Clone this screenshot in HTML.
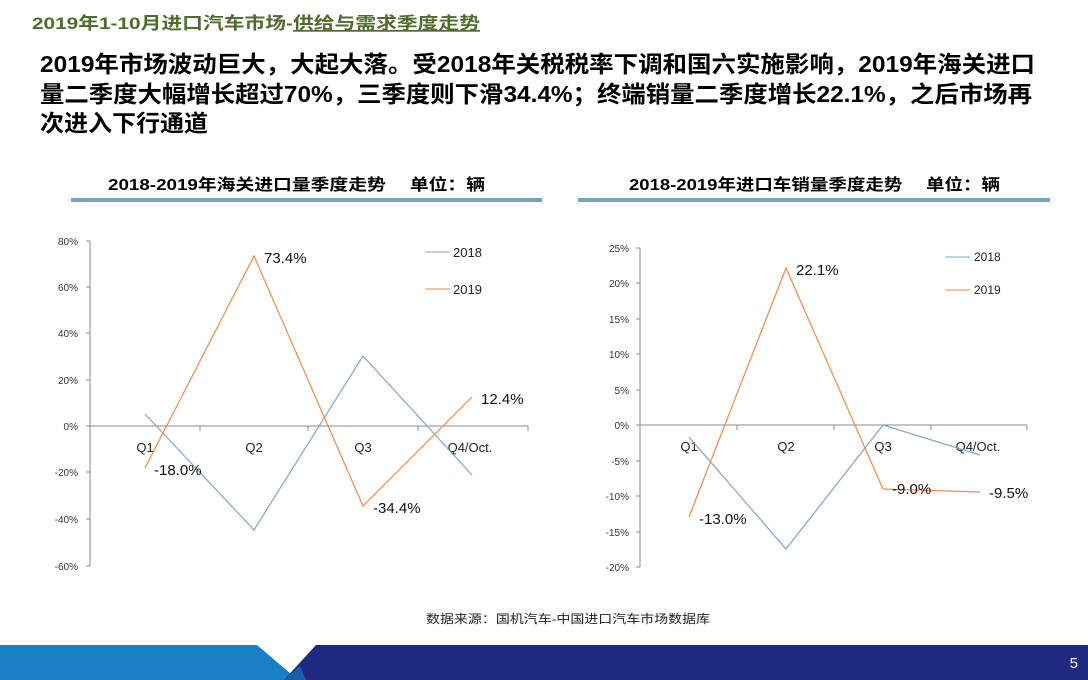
<!DOCTYPE html>
<html><head><meta charset="utf-8"><style>
html,body{margin:0;padding:0;background:#fff;}
svg{display:block;font-family:"Liberation Sans","Noto Sans CJK SC",sans-serif;}
</style></head><body>
<svg width="1088" height="680" viewBox="0 0 1088 680" xmlns="http://www.w3.org/2000/svg">
<rect width="1088" height="680" fill="#fff"/>
<text x="32" y="29" font-size="17" font-weight="bold" fill="#4f6b2e" textLength="448" lengthAdjust="spacingAndGlyphs">2019年1-10月进口汽车市场-<tspan text-decoration="underline">供给与需求季度走势</tspan></text>
<g font-size="23" font-weight="bold" fill="#000">
<text x="40" y="72" textLength="995" lengthAdjust="spacingAndGlyphs">2019年市场波动巨大，大起大落。受2018年关税税率下调和国六实施影响，2019年海关进口</text>
<text x="40" y="102" textLength="992" lengthAdjust="spacingAndGlyphs">量二季度大幅增长超过70%，三季度则下滑34.4%；终端销量二季度增长22.1%，之后市场再</text>
<text x="40" y="131" textLength="168" lengthAdjust="spacingAndGlyphs">次进入下行通道</text>
</g>
<g font-size="16" font-weight="bold" fill="#000">
<text x="108" y="190" textLength="377" lengthAdjust="spacingAndGlyphs">2018-2019年海关进口量季度走势　  单位：辆</text>
<text x="629" y="190" textLength="371" lengthAdjust="spacingAndGlyphs">2018-2019年进口车销量季度走势　 单位：辆</text>
</g>
<rect x="71" y="198" width="471" height="4" fill="#6fa7bc"/>
<rect x="578" y="198" width="472" height="4" fill="#6fa7bc"/>

<g stroke="#888" stroke-width="1" fill="none">
<line x1="90" y1="241" x2="90" y2="566"/>
<line x1="86" y1="241" x2="90" y2="241"/><line x1="86" y1="287" x2="90" y2="287"/><line x1="86" y1="333" x2="90" y2="333"/><line x1="86" y1="380" x2="90" y2="380"/><line x1="86" y1="426" x2="90" y2="426"/><line x1="86" y1="472" x2="90" y2="472"/><line x1="86" y1="519" x2="90" y2="519"/><line x1="86" y1="566" x2="90" y2="566"/>
<line x1="90" y1="426" x2="528" y2="426"/>
<line x1="200" y1="426" x2="200" y2="431"/><line x1="308" y1="426" x2="308" y2="431"/><line x1="418" y1="426" x2="418" y2="431"/><line x1="528" y1="426" x2="528" y2="431"/>
</g>
<g font-size="10" fill="#333" text-anchor="end">
<text x="78" y="245">80%</text><text x="78" y="291">60%</text><text x="78" y="337">40%</text><text x="78" y="384">20%</text><text x="78" y="430">0%</text><text x="78" y="476">-20%</text><text x="78" y="523">-40%</text><text x="78" y="570">-60%</text>
</g>
<g font-size="13" fill="#222" text-anchor="middle">
<text x="145" y="452">Q1</text><text x="254" y="452">Q2</text><text x="363" y="452">Q3</text><text x="470" y="452">Q4/Oct.</text>
</g>
<polyline points="145,414 254,530 363,356 472,475" fill="none" stroke="#7fa4cc" stroke-width="1.2"/>
<polyline points="145,468 254,256 363,506 472,397" fill="none" stroke="#ec8a4e" stroke-width="1.2"/>
<g font-size="15" fill="#111">
<text x="264" y="263">73.4%</text><text x="154" y="475">-18.0%</text><text x="373" y="513">-34.4%</text><text x="481" y="404">12.4%</text>
</g>
<line x1="425" y1="252" x2="450" y2="252" stroke="#7fa4cc"/><line x1="425" y1="289" x2="450" y2="289" stroke="#ec8a4e"/>
<g font-size="13" fill="#222"><text x="453" y="257">2018</text><text x="453" y="294">2019</text></g>

<g stroke="#888" stroke-width="1" fill="none">
<line x1="640" y1="248" x2="640" y2="567"/>
<line x1="636" y1="248" x2="640" y2="248"/><line x1="636" y1="283" x2="640" y2="283"/><line x1="636" y1="319" x2="640" y2="319"/><line x1="636" y1="354" x2="640" y2="354"/><line x1="636" y1="390" x2="640" y2="390"/><line x1="636" y1="425" x2="640" y2="425"/><line x1="636" y1="461" x2="640" y2="461"/><line x1="636" y1="496" x2="640" y2="496"/><line x1="636" y1="532" x2="640" y2="532"/><line x1="636" y1="567" x2="640" y2="567"/>
<line x1="640" y1="425" x2="1027" y2="425"/>
<line x1="737" y1="425" x2="737" y2="430"/><line x1="834" y1="425" x2="834" y2="430"/><line x1="931" y1="425" x2="931" y2="430"/><line x1="1027" y1="425" x2="1027" y2="430"/>
</g>
<g font-size="10" fill="#333" text-anchor="end">
<text x="629" y="252">25%</text><text x="629" y="287">20%</text><text x="629" y="323">15%</text><text x="629" y="358">10%</text><text x="629" y="394">5%</text><text x="629" y="429">0%</text><text x="629" y="465">-5%</text><text x="629" y="500">-10%</text><text x="629" y="536">-15%</text><text x="629" y="571">-20%</text>
</g>
<g font-size="13" fill="#222" text-anchor="middle">
<text x="689" y="451">Q1</text><text x="786" y="451">Q2</text><text x="883" y="451">Q3</text><text x="978" y="451">Q4/Oct.</text>
</g>
<polyline points="689,437 786,549 883,425 980,455" fill="none" stroke="#7fa4cc" stroke-width="1.2"/>
<polyline points="689,517 786,268 883,489 980,492" fill="none" stroke="#ec8a4e" stroke-width="1.2"/>
<g font-size="15" fill="#111">
<text x="796" y="275">22.1%</text><text x="699" y="524">-13.0%</text><text x="892" y="494">-9.0%</text><text x="989" y="498">-9.5%</text>
</g>
<line x1="945" y1="257" x2="970" y2="257" stroke="#7fa4cc"/><line x1="945" y1="290" x2="970" y2="290" stroke="#ec8a4e"/>
<g font-size="12" fill="#222"><text x="974" y="261">2018</text><text x="974" y="294">2019</text></g>

<text x="426" y="623" font-size="12" fill="#222" textLength="284" lengthAdjust="spacingAndGlyphs">数据来源：国机汽车-中国进口汽车市场数据库</text>

<polygon points="0,645 257,645 298,680 0,680" fill="#1a7fc4"/>
<polygon points="316,645 1088,645 1088,680 284,680" fill="#1f2a80"/>
<polygon points="284,680 300,666 306,680" fill="#1761ab"/>
<text x="1078" y="668" font-size="15" fill="#fff" text-anchor="end">5</text>
</svg>
</body></html>
